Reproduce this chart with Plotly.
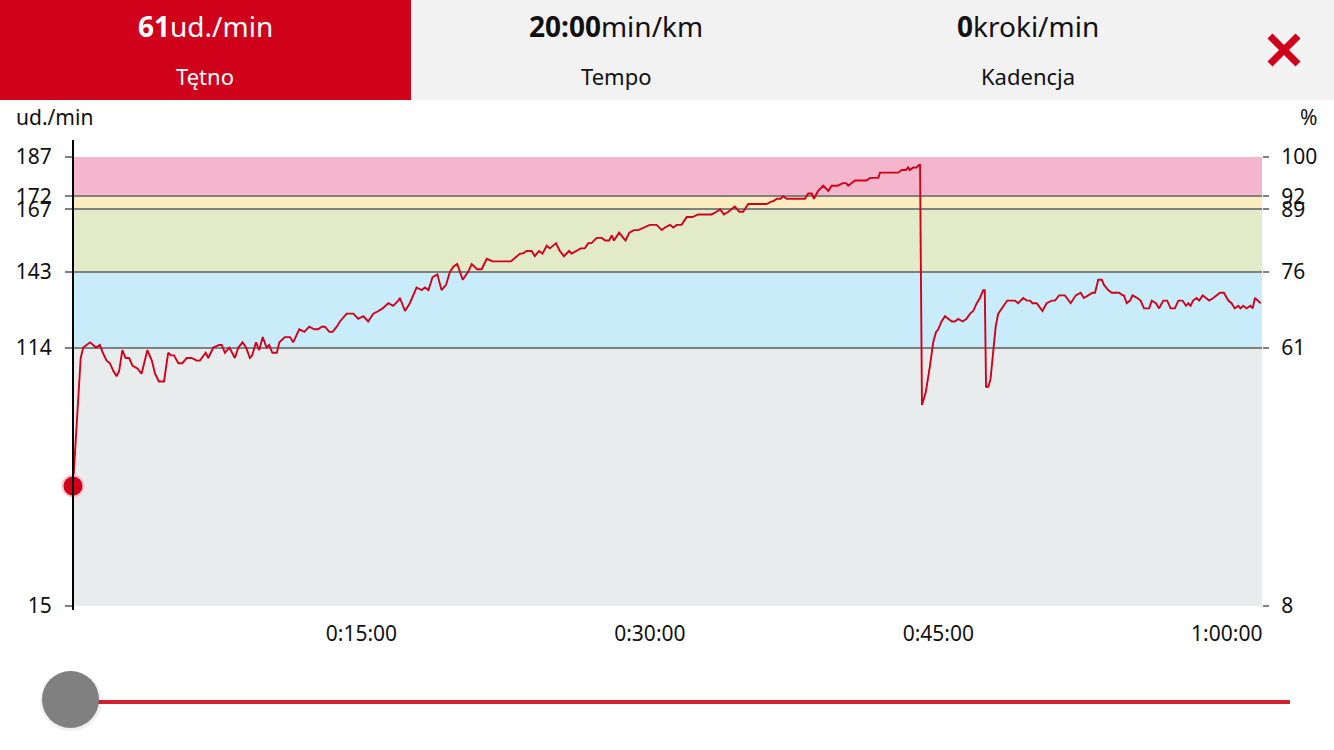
import plotly.graph_objects as go

# ---------------- data ----------------
time_s = [0, 12, 24, 32, 43, 53, 63, 72, 84, 93, 105, 115, 126, 136, 144, 154, 164, 175, 186, 201,
          214, 232, 246, 256, 268, 284, 297, 306, 315, 329, 341, 355, 370, 386, 396, 414, 422, 438, 456, 464,
          474, 488, 505, 516, 529, 540, 552, 559, 571, 581, 592, 604, 612, 622, 636, 644, 661, 677, 687, 706,
          722, 737, 753, 765, 776, 786, 800, 810, 823, 833, 854, 864, 875, 890, 906, 921, 937, 953, 966, 984,
          999, 1015, 1020, 1036, 1051, 1072, 1088, 1098, 1109, 1122, 1137, 1150, 1164, 1176, 1187, 1199, 1216, 1233, 1244, 1261,
          1275, 1291, 1309, 1327, 1339, 1353, 1366, 1376, 1384, 1395, 1403, 1416, 1431, 1441, 1454, 1465, 1478, 1488, 1507, 1519,
          1532, 1548, 1556, 1572, 1584, 1597, 1608, 1618, 1634, 1650, 1660, 1673, 1681, 1688, 1704, 1717, 1724, 1736, 1750, 1764,
          1782, 1800, 1821, 1837, 1847, 1863, 1873, 1884, 1899, 1915, 1933, 1951, 1965, 1993, 2008, 2019, 2031, 2045, 2065, 2079,
          2091, 2107, 2133, 2164, 2180, 2185, 2196, 2208, 2216, 2227, 2247, 2284, 2294, 2305, 2312, 2325, 2341, 2349, 2357, 2367,
          2385, 2403, 2412, 2419, 2440, 2466, 2476, 2487, 2513, 2518, 2544, 2551, 2575, 2586, 2599, 2606, 2611, 2622, 2632, 2640,
          2643, 2649, 2661, 2674, 2684, 2693, 2700, 2710, 2721, 2731, 2742, 2752, 2762, 2776, 2788, 2799, 2809, 2820, 2830, 2840,
          2845, 2849, 2856, 2863, 2871, 2879, 2887, 2903, 2915, 2927, 2939, 2949, 2965, 2976, 2986, 2994, 3007, 3025, 3038, 3054,
          3064, 3077, 3095, 3113, 3129, 3144, 3154, 3168, 3181, 3189, 3199, 3210, 3217, 3230, 3241, 3246, 3264, 3275, 3279, 3288,
          3298, 3306, 3321, 3331, 3342, 3358, 3366, 3379, 3389, 3402, 3414, 3425, 3438, 3449, 3462, 3473, 3480, 3487, 3495, 3506,
          3514, 3525, 3545, 3558, 3568, 3579, 3591, 3605, 3615, 3625, 3636, 3643, 3651, 3662, 3674, 3681, 3688, 3698, 3706]

heart_rate = [61, 86, 110, 114, 115, 116, 115, 114, 115, 112, 109, 108, 105, 103, 105, 113, 110, 110, 107, 106,
              104, 113, 109, 104, 101, 101, 112, 111, 111, 108, 108, 110, 110, 109, 109, 112, 110, 114, 115, 115,
              112, 114, 110, 114, 116, 114, 110, 111, 116, 113, 118, 114, 115, 112, 112, 116, 118, 118, 116, 121,
              120, 122, 121, 121, 122, 122, 120, 120, 122, 124, 127, 127, 127, 125, 126, 124, 127, 128, 129, 131,
              130, 132, 133, 128, 131, 137, 136, 137, 136, 141, 142, 136, 138, 143, 145, 146, 140, 143, 146, 144,
              144, 148, 147, 147, 147, 147, 147, 148, 149, 150, 150, 151, 151, 149, 151, 150, 153, 152, 154, 151,
              149, 151, 150, 151, 152, 152, 154, 154, 156, 156, 155, 155, 157, 155, 158, 156, 155, 158, 159, 159,
              160, 161, 161, 159, 160, 161, 160, 161, 161, 164, 164, 165, 165, 165, 166, 167, 165, 166, 168, 166,
              166, 169, 169, 169, 170, 170, 171, 171, 172, 171, 171, 171, 173, 173, 171, 174, 176, 175, 174, 176,
              176, 177, 177, 176, 178, 178, 178, 179, 179, 181, 181, 181, 181, 182, 182, 183, 182, 183, 183, 184,
              184, 92, 97, 107, 116, 120, 121, 124, 126, 125, 124, 124, 125, 124, 125, 127, 128, 131, 133, 136,
              136, 99, 99, 102, 112, 122, 127, 130, 132, 132, 132, 131, 133, 132, 132, 131, 131, 128, 131, 132,
              132, 134, 134, 131, 134, 135, 133, 134, 135, 135, 140, 140, 138, 136, 135, 135, 135, 134, 134, 131,
              132, 134, 133, 132, 129, 129, 132, 131, 129, 132, 132, 129, 129, 132, 132, 130, 131, 130, 132, 133,
              132, 134, 132, 133, 134, 135, 135, 132, 131, 129, 130, 129, 130, 129, 130, 129, 133, 132, 131]

zone_bounds = [15, 114, 143, 167, 172, 187]
zone_colors = ["#e9eced", "#c8ecf9", "#e2eac8", "#fcedc0", "#f4b6cc"]
left_ticks = [15, 114, 143, 167, 172, 187]
right_tick_text = ["8", "61", "76", "89", "92", "100"]
x_tickvals = [900, 1800, 2700, 3600]
x_ticktext = ["0:15:00", "0:30:00", "0:45:00", "1:00:00"]
x_max = 3710

header_values = ["61", "20:00", "0"]
header_units = ["ud./min", "min/km", "kroki/min"]
header_names = ["Tętno", "Tempo", "Kadencja"]

# ---------------- layout helpers ----------------
W, H = 1334, 750
FONT = "Noto Sans"
RED = "#d0021b"


def px(x):
    return x / W


def py(y):
    return 1 - y / H


fig = go.Figure()

fig.add_trace(go.Scatter(
    x=time_s, y=heart_rate, mode="lines",
    line=dict(color=RED, width=1.9), hoverinfo="skip", showlegend=False,
))
fig.add_trace(go.Scatter(
    x=[time_s[0]], y=[heart_rate[0]], mode="markers",
    marker=dict(size=21, color=RED, line=dict(color="#f3c3cc", width=2)),
    cliponaxis=False, hoverinfo="skip", showlegend=False,
))
# invisible trace on the right axis so it is drawn
fig.add_trace(go.Scatter(x=[0], y=[15], yaxis="y2", mode="markers",
                         marker=dict(opacity=0), hoverinfo="skip", showlegend=False))

shapes = []
# zone bands
for i, c in enumerate(zone_colors):
    shapes.append(dict(type="rect", xref="x domain", yref="y", x0=0, x1=1,
                       y0=zone_bounds[i], y1=zone_bounds[i + 1],
                       fillcolor=c, line=dict(width=0), layer="below"))

# header bars
shapes.append(dict(type="rect", xref="paper", yref="paper", x0=px(411), x1=px(1334),
                   y0=py(100), y1=py(0), fillcolor="#f2f2f2", line=dict(width=0), layer="below"))
shapes.append(dict(type="rect", xref="paper", yref="paper", x0=px(0), x1=px(411),
                   y0=py(100), y1=py(0), fillcolor=RED, line=dict(width=0), layer="below"))
# close cross
shapes.append(dict(type="line", xref="paper", yref="paper", x0=px(1270), y0=py(36), x1=px(1298), y1=py(64),
                   line=dict(color=RED, width=7)))
shapes.append(dict(type="line", xref="paper", yref="paper", x0=px(1270), y0=py(64), x1=px(1298), y1=py(36),
                   line=dict(color=RED, width=7)))
# cursor line
shapes.append(dict(type="line", xref="paper", yref="paper", x0=px(73), x1=px(73), y0=py(140), y1=py(610),
                   line=dict(color="#000000", width=2)))
# slider
shapes.append(dict(type="line", xref="paper", yref="paper", x0=px(96), x1=px(1290), y0=py(702), y1=py(702),
                   line=dict(color="#d41f2f", width=4)))
shapes.append(dict(type="circle", xref="paper", yref="paper", x0=px(40), x1=px(102), y0=py(731), y1=py(671),
                   fillcolor="rgba(0,0,0,0.06)", line=dict(width=0)))
shapes.append(dict(type="circle", xref="paper", yref="paper", x0=px(42), x1=px(99), y0=py(728), y1=py(671),
                   fillcolor="#808080", line=dict(width=0)))

annotations = []
centers = [205, 616, 1028]
for i in range(3):
    col = "#ffffff" if i == 0 else "#111111"
    annotations.append(dict(xref="paper", yref="paper", x=px(centers[i]), y=py(26),
                            text=f"<b>{header_values[i]}</b>{header_units[i]}", showarrow=False,
                            font=dict(family=FONT, size=28, color=col), xanchor="center", yanchor="middle"))
    annotations.append(dict(xref="paper", yref="paper", x=px(centers[i]), y=py(76),
                            text=header_names[i], showarrow=False,
                            font=dict(family=FONT, size=22, color=col), xanchor="center", yanchor="middle"))
annotations.append(dict(xref="paper", yref="paper", x=px(14), y=py(117), text="ud./min", showarrow=False,
                        font=dict(family=FONT, size=21, color="#111111"), xanchor="left", yanchor="middle"))
annotations.append(dict(xref="paper", yref="paper", x=px(1319), y=py(117), text="%", showarrow=False,
                        font=dict(family=FONT, size=21, color="#111111"), xanchor="right", yanchor="middle"))

tickfont = dict(family=FONT, size=21, color="#111111")

fig.update_layout(
    width=W, height=H,
    margin=dict(l=0, r=0, t=0, b=0, autoexpand=False),
    paper_bgcolor="#ffffff", plot_bgcolor="rgba(0,0,0,0)",
    showlegend=False, hovermode=False,
    shapes=shapes, annotations=annotations,
    xaxis=dict(domain=[px(73), px(1262)], range=[0, x_max], tickvals=x_tickvals, ticktext=x_ticktext,
               showgrid=False, zeroline=False, showline=False, ticks="", tickfont=tickfont,
               ticklabelstandoff=13, fixedrange=True),
    yaxis=dict(domain=[py(606), py(157)], range=[15, 187], tickvals=left_ticks,
               showgrid=True, gridcolor="#808080", gridwidth=1.5, zeroline=False, showline=False,
               ticks="outside", ticklen=7, tickcolor="#808080", tickwidth=1.5, tickfont=tickfont,
               ticklabelstandoff=9, fixedrange=True),
    yaxis2=dict(overlaying="y", side="right", range=[15, 187], tickvals=left_ticks, ticktext=right_tick_text,
                showgrid=False, zeroline=False, showline=False, ticks="outside", ticklen=6,
                tickcolor="#808080", tickwidth=1.5, tickfont=tickfont, ticklabelstandoff=8, fixedrange=True),
)

fig.write_html("out.html", config={"displayModeBar": False},
               post_script="document.body.style.margin='0';document.body.style.overflow='hidden';")
